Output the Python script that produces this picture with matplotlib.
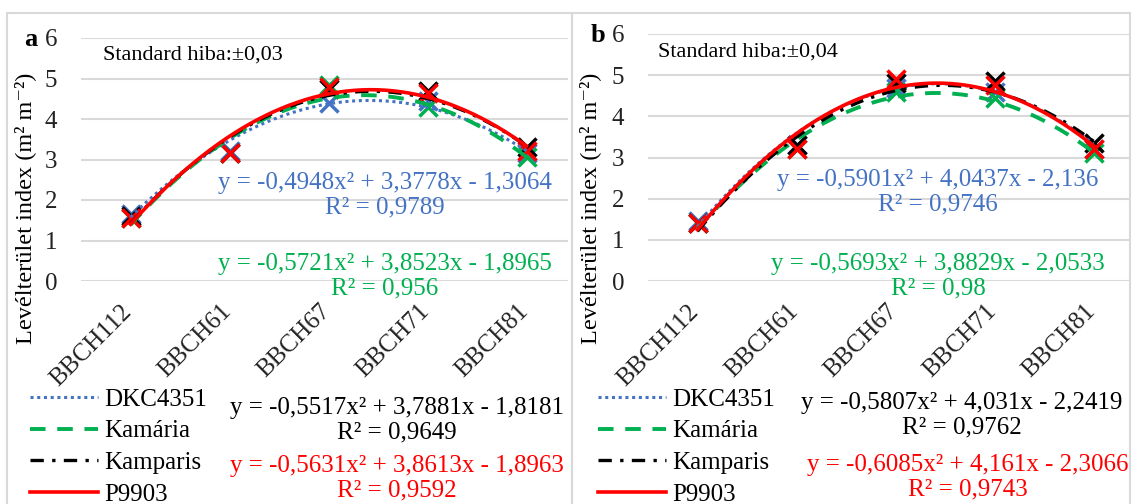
import matplotlib
matplotlib.use("Agg")
import matplotlib.pyplot as plt
from matplotlib.patches import Rectangle
from matplotlib.transforms import ScaledTranslation
import numpy as np

plt.rcParams['font.family'] = ['Liberation Serif', 'DejaVu Serif']

stages = ['BBCH112', 'BBCH61', 'BBCH67', 'BBCH71', 'BBCH81']
names = ['DKC4351', 'Kamária', 'Kamparis', 'P9903']

# panel a values
dkc_a = [1.65, 3.2, 4.4, 4.45, 3.15]
kam_a = [1.55, 3.15, 4.85, 4.3, 3.05]
kmp_a = [1.6, 3.15, 4.75, 4.7, 3.3]
p99_a = [1.55, 3.15, 4.8, 4.65, 3.2]
# panel b values
dkc_b = [1.45, 3.3, 4.7, 4.6, 3.2]
kam_b = [1.4, 3.2, 4.6, 4.45, 3.1]
kmp_b = [1.4, 3.3, 4.8, 4.85, 3.35]
p99_b = [1.4, 3.2, 4.9, 4.75, 3.2]

# trendline coefficients as printed (a2, a1, a0)
coef_a = [(-0.4948, 3.3778, -1.3064), (-0.5721, 3.8523, -1.8965),
          (-0.5517, 3.7881, -1.8181), (-0.5631, 3.8613, -1.8963)]
coef_b = [(-0.5901, 4.0437, -2.136), (-0.5693, 3.8829, -2.0533),
          (-0.5807, 4.031, -2.2419), (-0.6085, 4.161, -2.3066)]
eq_a = ['y = -0,4948x² + 3,3778x - 1,3064\nR² = 0,9789',
        'y = -0,5721x² + 3,8523x - 1,8965\nR² = 0,956',
        'y = -0,5517x² + 3,7881x - 1,8181\nR² = 0,9649',
        'y = -0,5631x² + 3,8613x - 1,8963\nR² = 0,9592']
eq_b = ['y = -0,5901x² + 4,0437x - 2,136\nR² = 0,9746',
        'y = -0,5693x² + 3,8829x - 2,0533\nR² = 0,98',
        'y = -0,5807x² + 4,031x - 2,2419\nR² = 0,9762',
        'y = -0,6085x² + 4,161x - 2,3066\nR² = 0,9743']

colors = ['#4472C4', '#00B050', '#000000', '#FF0000']
styles = [(0, (1, 1.2)), (0, (4, 3)), (0, (4, 2.5, 1, 2.5)), '-']
widths = [2.2, 2.8, 2.4, 2.6]

W, H = 1137, 504
fig = plt.figure(figsize=(W / 100, H / 100), dpi=100)

def fx(px):
    return px / W

def fy(py):
    return 1 - py / H

# panel borders
for x0, x1 in [(7, 572), (572, 1130)]:
    fig.patches.append(Rectangle((fx(x0), fy(520)), fx(x1) - fx(x0), fy(13) - fy(520),
                                 transform=fig.transFigure, fill=False,
                                 edgecolor='#d9d9d9', linewidth=1.5))

panels = [
    dict(left=81, right=568, top=38, letter='a', lx=24, se='Standard hiba:±0,03', sx=103, sy=55,
         data=[dkc_a, kam_a, kmp_a, p99_a], coef=coef_a, eqs=eq_a, ylx=25,
         eqpos=[(385, 195), (385, 276), (397, 420), (397, 478)], legx=30),
    dict(left=648, right=1130, top=34, letter='b', lx=591, se='Standard hiba:±0,04', sx=658, sy=52,
         data=[dkc_b, kam_b, kmp_b, p99_b], coef=coef_b, eqs=eq_b, ylx=590,
         eqpos=[(938, 192), (938, 276), (962, 415), (968, 477)], legx=598),
]

x = np.arange(len(stages))
xs = np.linspace(0, 4, 200)
for p in panels:
    ax = fig.add_axes([fx(p['left']), fy(281), fx(p['right']) - fx(p['left']), fy(p['top']) - fy(281)])
    ax.set_ylim(0, 6)
    ax.set_xlim(-0.5, (p['right'] - p['left']) / 99.0 - 0.5)
    ax.set_yticks(range(7))
    ax.set_xticks(x)
    ax.set_xticklabels(stages, rotation=45, ha='right', va='top', rotation_mode='anchor')
    ax.tick_params(length=0, labelsize=18, colors='#222222', pad=17)
    ax.tick_params(axis='x', pad=8)
    shift = ScaledTranslation(-7 / 72, -6 / 72, fig.dpi_scale_trans)
    for lab in ax.get_xticklabels():
        lab.set_transform(lab.get_transform() + shift)
    for s in ax.spines.values():
        s.set_visible(False)
    ax.grid(axis='y', color='#d9d9d9', linewidth=1.5)
    ax.set_axisbelow(True)
    handles = []
    for vals, c in zip(p['data'], colors):
        ax.plot(x, vals, linestyle='none', marker='x', markersize=13, markeredgewidth=2.5, color=c)
    for co, c, ls, lw, n in zip(p['coef'], colors, styles, widths, names):
        h, = ax.plot(xs, np.polyval(co, xs + 1), color=c, linestyle=ls, linewidth=lw, label=n)
        handles.append(h)
    for t, c, (ex, ey) in zip(p['eqs'], colors, p['eqpos']):
        fig.text(fx(ex), fy(ey), t, color=c, fontsize=18, ha='center', va='center', linespacing=1.12)
    fig.text(fx(p['sx']), fy(p['sy']), p['se'], fontsize=16, ha='left', va='center')
    fig.text(fx(p['lx']), fy(p['top'] + 2), p['letter'], fontsize=19, fontweight='bold', ha='left', va='center')
    fig.text(fx(p['ylx']), fy(208), 'Levélterület index (m² m⁻²)', fontsize=17.5,
             rotation=90, ha='center', va='center')
    fig.legend(handles=handles, loc='upper left', bbox_to_anchor=(fx(p['legx']), fy(388)),
               frameon=False, fontsize=18, handlelength=2.7, handletextpad=0.25,
               labelspacing=0.37, borderpad=0, borderaxespad=0)

fig.savefig('out.png', dpi=100)
